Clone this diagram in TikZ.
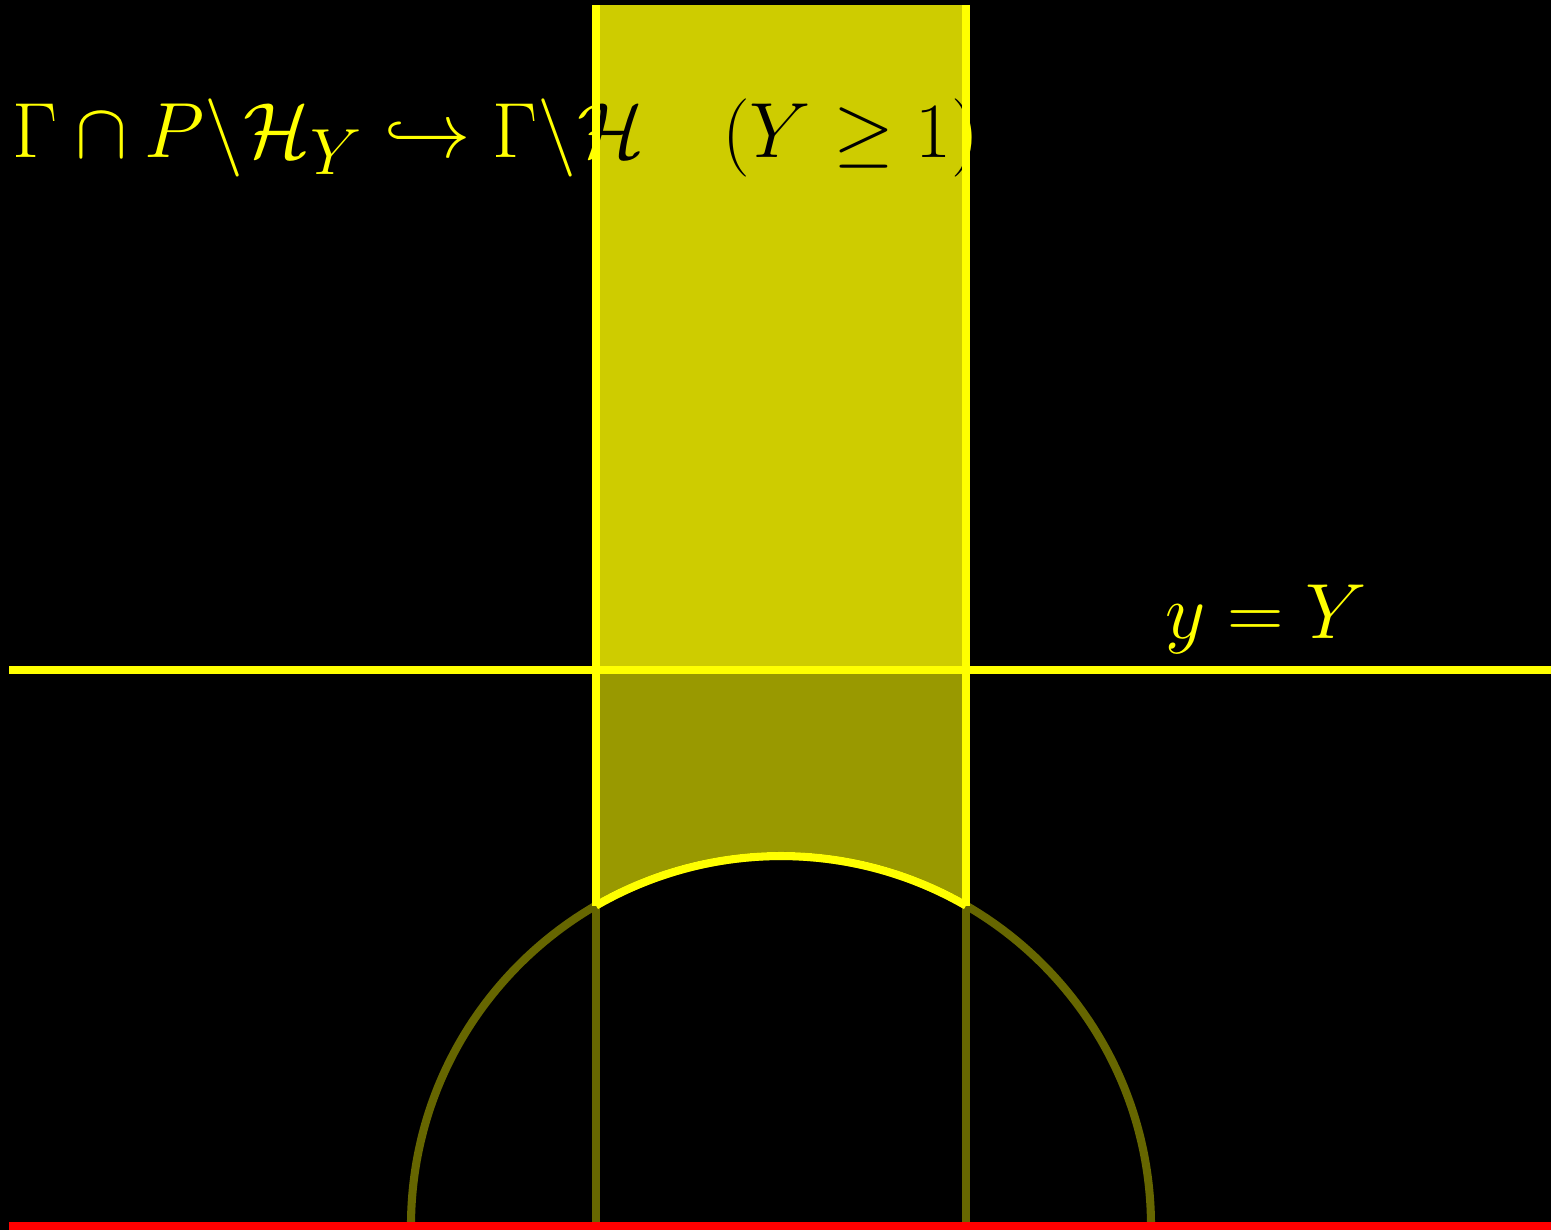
\documentclass[tikz,border=0pt]{standalone}
\usepackage{amsmath,amssymb}
\definecolor{brightY}{RGB}{255,255,0}
\definecolor{fillTop}{RGB}{206,204,0}
\definecolor{fillLow}{RGB}{153,153,0}
\definecolor{dimY}{RGB}{102,102,0}
\tikzset{
  bright/.style={draw=brightY, line width=2.3pt},
  dim/.style={draw=dimY, line width=2.3pt},
  lbl/.style={anchor=base west, inner sep=0pt, font=\Huge, scale=0.895},
}
\begin{document}
\begin{tikzpicture}[x=3.7cm,y=3.7cm]
% canvas
\fill[black] (-2.1108,-0.0108) rectangle (2.0811,3.3135);
\useasboundingbox (-2.1108,-0.0108) rectangle (2.0811,3.3135);
% coordinates
\coordinate (redL) at (-2.086,0);
\coordinate (redR) at (2.0811,0);
\coordinate (hL) at (-2.086,1.502);
\coordinate (hR) at (2.0811,1.502);
\coordinate (vLtop) at (-0.5,3.3);
\coordinate (vRtop) at (0.5,3.3);
\coordinate (vLbot) at (-0.5,0);
\coordinate (vRbot) at (0.5,0);
\coordinate (vLmid) at (-0.5,0.8660);
\coordinate (vRmid) at (0.5,0.8660);
\coordinate (arcR) at (1,0);
% title text in yellow (under the fill)
\node[lbl, text=brightY] (title) at (-2.078,2.889)
  {$\Gamma\cap P\backslash\mathcal{H}_Y \hookrightarrow \Gamma\backslash\mathcal{H}\quad(Y\geq 1)$};
% fills
\fill[fillTop] (-0.5,1.502) rectangle (0.5,3.3);
\fill[fillLow] (-0.5,1.502) -- (vLmid) arc[start angle=120,end angle=60,radius=1] -- (0.5,1.502) -- cycle;
% title text in black over the fill
\begin{scope}
  \clip (-0.5,1.502) rectangle (0.5,3.3);
  \node[lbl, text=black] (titleB) at (-2.078,2.889)
    {$\Gamma\cap P\backslash\mathcal{H}_Y \hookrightarrow \Gamma\backslash\mathcal{H}\quad(Y\geq 1)$};
\end{scope}
% dim lines
\draw[dim] (arcR) arc[start angle=0,end angle=180,radius=1];
\draw[dim] (vLbot) -- (vLmid);
\draw[dim] (vRbot) -- (vRmid);
% bright lines
\draw[bright] (hL) -- (hR);
\draw[bright] (vLmid) -- (vLtop);
\draw[bright] (vRmid) -- (vRtop);
\draw[bright] (vRmid) arc[start angle=60,end angle=120,radius=1];
% red baseline
\draw[draw=red, line width=2.3pt] (redL) -- (redR);
% label
\node[lbl, text=brightY] (ylabel) at (1.038,1.589) {$y=Y$};
\end{tikzpicture}
\end{document}
